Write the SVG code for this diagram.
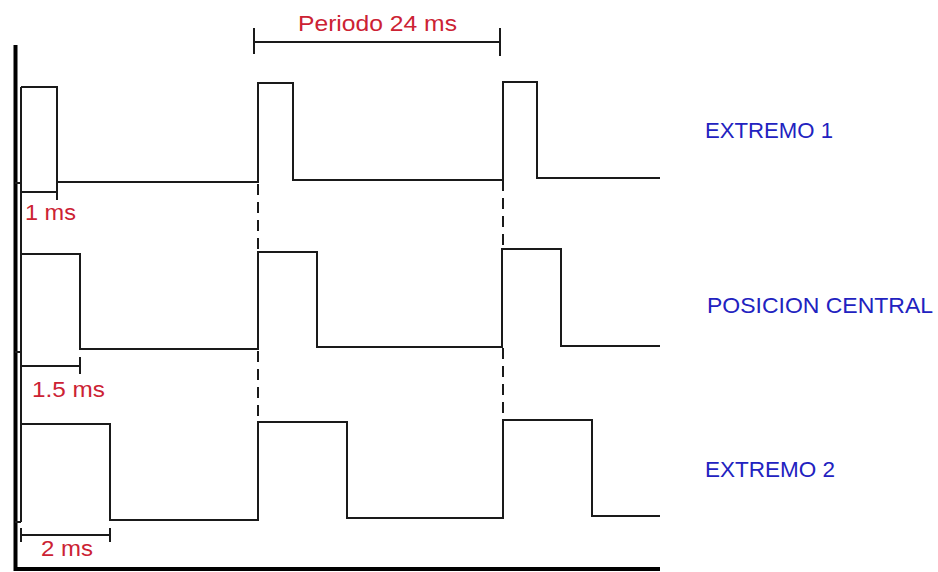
<svg xmlns="http://www.w3.org/2000/svg" width="938" height="572" viewBox="0 0 938 572">
  <style>
    .sig { fill: none; stroke: #1a1a1a; stroke-width: 2; stroke-linejoin: miter; }
    .dim { fill: none; stroke: #1a1a1a; stroke-width: 2; }
    .guide { fill: none; stroke: #1a1a1a; stroke-width: 2; stroke-dasharray: 11 7; }
    .axis { fill: none; stroke: #000; stroke-width: 4; }
    .red { font-family: "Liberation Sans", Arial, sans-serif; font-size: 22px; fill: #cc2233; }
    .blue { font-family: "Liberation Sans", Arial, sans-serif; font-size: 22px; fill: #2222c0; }
  </style>
  <rect width="938" height="572" fill="#ffffff"/>

  <!-- axes -->
  <g id="axes">
    <path class="axis" d="M15.5 45 V569 H660"/>
    <path class="sig" d="M21 87 V522"/>
  </g>

  <!-- period dimension -->
  <g id="period">
    <path class="dim" d="M254 28 V54 M254 42 H500 M500 28 V56"/>
    <text class="red" x="298" y="31" textLength="159" lengthAdjust="spacingAndGlyphs">Periodo 24 ms</text>
  </g>

  <!-- signal: extremo 1 -->
  <g id="extremo1">
    <path class="sig" d="M15 183 H21 M21 87 H57 V182 H258 V83 H293 V180 H503 V82 H537 V178 H660"/>
    <path class="dim" d="M21 192 H57 M57 182 V200"/>
    <text class="red" x="25" y="220" textLength="51" lengthAdjust="spacingAndGlyphs">1 ms</text>
    <text class="blue" x="705" y="138" textLength="128" lengthAdjust="spacingAndGlyphs">EXTREMO 1</text>
  </g>

  <!-- signal: posicion central -->
  <g id="central">
    <path class="sig" d="M15 352 H21 M21 254 H80 V349 H258 V252 H317 V347 H502 V249 H561 V346 H660"/>
    <path class="dim" d="M21 366 H80 M80 357 V374"/>
    <text class="red" x="32" y="397" textLength="73" lengthAdjust="spacingAndGlyphs">1.5 ms</text>
    <text class="blue" x="707" y="313" textLength="226" lengthAdjust="spacingAndGlyphs">POSICION CENTRAL</text>
  </g>

  <!-- signal: extremo 2 -->
  <g id="extremo2">
    <path class="sig" d="M15 522 H21 M21 424 H110 V520 H258 V422 H347 V518 H503 V420 H592 V516 H660"/>
    <path class="dim" d="M21 535 H110 M21 528 V542 M110 528 V542"/>
    <text class="red" x="41" y="556" textLength="52" lengthAdjust="spacingAndGlyphs">2 ms</text>
    <text class="blue" x="705" y="477" textLength="130" lengthAdjust="spacingAndGlyphs">EXTREMO 2</text>
  </g>

  <!-- period guides -->
  <g id="connectors">
    <path class="guide" d="M258 184 V252 M258 351 V422"/>
    <path class="guide" d="M503 180 V249 M503 348 V420"/>
  </g>
</svg>
